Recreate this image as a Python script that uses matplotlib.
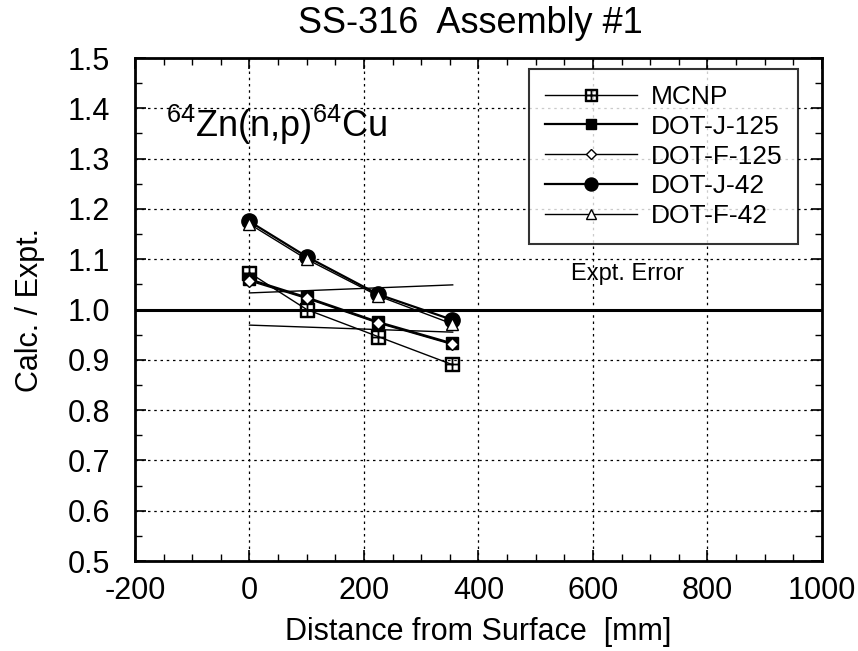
import matplotlib
matplotlib.use("Agg")
import matplotlib.pyplot as plt
from matplotlib.ticker import MultipleLocator

plt.rcParams['font.family'] = ['Liberation Sans', 'DejaVu Sans']
plt.rcParams['axes.unicode_minus'] = False
plt.rcParams['mathtext.fontset'] = 'custom'
plt.rcParams['mathtext.rm'] = 'Liberation Sans'

# distance from surface [mm]
dist = [0, 100, 225, 353]

# calc / expt ratios
mcnp = [1.073, 1.000, 0.946, 0.891]
dot_j_125 = [1.060, 1.024, 0.975, 0.933]
dot_f_125 = [1.057, 1.022, 0.973, 0.931]
dot_j_42 = [1.175, 1.105, 1.030, 0.980]
dot_f_42 = [1.170, 1.100, 1.027, 0.972]

# experimental error band edges
err_x = [0, 355]
err_hi = [1.033, 1.049]
err_lo = [0.969, 0.955]

fig = plt.figure(figsize=(8.58, 6.51), dpi=100)
ax = fig.add_axes([0.1573, 0.1382, 0.8007, 0.7727])

ax.plot(dist, mcnp, color='k', lw=1.0, marker='$\\boxplus$', ms=10, label='MCNP')
ax.plot(dist, dot_j_125, color='k', lw=1.6, marker='s', ms=9, mfc='k', label='DOT-J-125')
ax.plot(dist, dot_f_125, color='k', lw=1.0, marker='D', ms=6.5, mfc='white', label='DOT-F-125')
ax.plot(dist, dot_j_42, color='k', lw=1.6, marker='o', ms=11, mfc='k', label='DOT-J-42')
ax.plot(dist, dot_f_42, color='k', lw=1.0, marker='^', ms=9, mfc='white', label='DOT-F-42')

ax.plot(err_x, err_hi, color='k', lw=1.0)
ax.plot(err_x, err_lo, color='k', lw=1.0)
ax.axhline(1.0, color='k', lw=2.2)
ax.text(660, 1.07, 'Expt. Error', fontsize=17, ha='center', va='center')

ax.text(-145, 1.368, '$^{64}$Zn(n,p)$^{64}$Cu', fontsize=26, ha='left', va='center')

ax.set_xlim(-200, 1000)
ax.set_ylim(0.5, 1.5)
ax.xaxis.set_major_locator(MultipleLocator(200))
ax.xaxis.set_minor_locator(MultipleLocator(50))
ax.yaxis.set_major_locator(MultipleLocator(0.1))
ax.yaxis.set_minor_locator(MultipleLocator(0.05))
ax.yaxis.set_major_formatter(plt.FormatStrFormatter('%.1f'))
ax.tick_params(which='both', direction='in', top=True, right=True)
ax.tick_params(which='major', length=8, width=1.2, labelsize=22)
ax.tick_params(axis='x', which='major', pad=11)
ax.tick_params(axis='y', which='major', pad=18)
ax.tick_params(which='minor', length=5, width=1.0)
for s in ax.spines.values():
    s.set_linewidth(2)
ax.grid(True, which='major', linestyle=(0, (2, 3)), color='k', lw=0.9)

ax.set_xlabel('Distance from Surface  [mm]', fontsize=22, labelpad=8)
ax.set_ylabel('Calc. / Expt.', fontsize=22, labelpad=16)
fig.text(0.548, 0.964, 'SS-316  Assembly #1', fontsize=26, ha='center', va='center')

leg = ax.legend(loc='upper right', fontsize=19, frameon=True, fancybox=False,
                edgecolor='k', handlelength=3.5, handletextpad=0.5,
                borderpad=0.6, labelspacing=0.22, markerscale=0.85,
                bbox_to_anchor=(0.9652, 0.978), borderaxespad=0)
leg.get_frame().set_linewidth(1.5)

fig.savefig('out.png', dpi=100)
